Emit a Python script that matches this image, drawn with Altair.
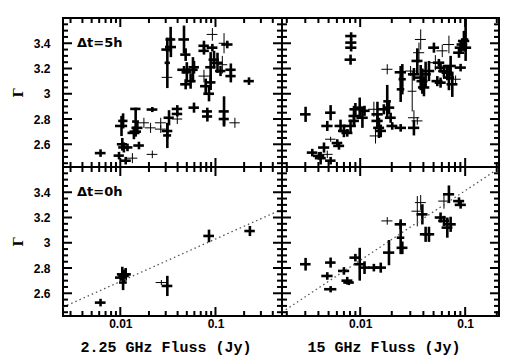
import altair as alt
import pandas as pd

# rows: (flux Jy, photon index, flux error, index error, set)
TL_PTS = [
    (0.0062, 2.53, 0.0008, 0.03, "a"), (0.0097, 2.51, 0.0012, 0.03, "a"),
    (0.0103, 2.745, 0.0015, 0.08, "a"), (0.0107, 2.785, 0.0012, 0.06, "a"),
    (0.0105, 2.60, 0.0013, 0.05, "a"), (0.0109, 2.575, 0.0014, 0.04, "a"),
    (0.0114, 2.47, 0.0015, 0.03, "a"), (0.0119, 2.575, 0.0015, 0.03, "a"),
    (0.0134, 2.49, 0.0017, 0.04, "b"), (0.0139, 2.69, 0.0020, 0.05, "a"),
    (0.0145, 2.70, 0.0020, 0.04, "a"), (0.0145, 2.78, 0.0012, 0.10, "a"),
    (0.0145, 2.88, 0.0018, 0.01, "a"), (0.0157, 2.59, 0.0020, 0.03, "a"),
    (0.0151, 2.73, 0.0020, 0.05, "a"), (0.0177, 2.77, 0.0023, 0.04, "b"),
    (0.0208, 2.73, 0.0027, 0.04, "b"), (0.0217, 2.875, 0.0028, 0.02, "a"),
    (0.0217, 2.52, 0.0028, 0.03, "b"), (0.0266, 2.77, 0.0035, 0.04, "b"),
    (0.0266, 2.72, 0.0035, 0.03, "b"), (0.0312, 2.705, 0.0040, 0.06, "a"),
    (0.0312, 2.67, 0.0030, 0.10, "a"), (0.0325, 2.81, 0.0040, 0.06, "a"),
    (0.0397, 2.88, 0.0050, 0.03, "a"), (0.0397, 2.84, 0.0050, 0.02, "a"),
    (0.0397, 2.80, 0.0050, 0.04, "b"), (0.0595, 2.89, 0.0075, 0.04, "a"),
    (0.0822, 2.82, 0.010, 0.04, "a"), (0.123, 2.86, 0.015, 0.12, "a"),
    (0.123, 2.80, 0.015, 0.05, "a"), (0.16, 2.77, 0.020, 0.04, "b"),
    (0.031, 3.35, 0.0040, 0.02, "a"), (0.0312, 3.245, 0.0020, 0.20, "a"),
    (0.0312, 3.13, 0.0040, 0.04, "b"), (0.0338, 3.43, 0.0040, 0.10, "a"),
    (0.034, 3.37, 0.0045, 0.08, "a"), (0.0467, 3.43, 0.0060, 0.11, "a"),
    (0.0486, 3.31, 0.0060, 0.05, "a"), (0.0467, 3.19, 0.0070, 0.03, "a"),
    (0.050, 3.17, 0.0060, 0.08, "a"), (0.0486, 3.075, 0.0060, 0.04, "a"),
    (0.0548, 3.10, 0.0070, 0.06, "a"), (0.058, 3.19, 0.0070, 0.10, "a"),
    (0.0595, 3.21, 0.0075, 0.05, "a"), (0.0757, 3.38, 0.0095, 0.04, "a"),
    (0.0757, 3.34, 0.0095, 0.03, "a"), (0.0757, 3.14, 0.0095, 0.05, "b"),
    (0.0789, 3.06, 0.010, 0.06, "a"), (0.0855, 3.00, 0.011, 0.06, "a"),
    (0.089, 3.09, 0.011, 0.06, "a"), (0.0928, 3.47, 0.012, 0.05, "b"),
    (0.0928, 3.365, 0.012, 0.03, "a"), (0.089, 3.21, 0.011, 0.12, "a"),
    (0.0966, 3.27, 0.012, 0.07, "a"), (0.105, 3.245, 0.014, 0.08, "a"),
    (0.113, 3.18, 0.014, 0.04, "a"), (0.118, 3.23, 0.015, 0.07, "b"),
    (0.123, 3.40, 0.015, 0.08, "b"), (0.133, 3.39, 0.018, 0.03, "a"),
    (0.145, 3.19, 0.018, 0.05, "a"), (0.145, 3.14, 0.018, 0.05, "a"),
    (0.225, 3.10, 0.028, 0.03, "a"), (0.082, 2.86, 0.010, 0.03, "a"),
]
TR_PTS = [
    (0.00302, 2.837, 0.00035, 0.06, "a"), (0.0035, 2.534, 0.0004, 0.03, "a"),
    (0.00405, 2.508, 0.0005, 0.03, "a"), (0.0042, 2.49, 0.0005, 0.05, "a"),
    (0.00452, 2.574, 0.00055, 0.04, "a"), (0.00486, 2.745, 0.0006, 0.04, "a"),
    (0.00486, 2.52, 0.0006, 0.03, "b"), (0.00523, 2.85, 0.0006, 0.06, "a"),
    (0.00523, 2.64, 0.0006, 0.02, "b"), (0.00523, 2.47, 0.0006, 0.03, "a"),
    (0.00605, 2.61, 0.0007, 0.03, "a"), (0.00628, 2.587, 0.00075, 0.03, "a"),
    (0.0065, 2.745, 0.0008, 0.05, "a"), (0.0070, 2.706, 0.00085, 0.05, "a"),
    (0.00753, 2.69, 0.0009, 0.03, "a"), (0.0081, 2.745, 0.0010, 0.05, "a"),
    (0.0082, 3.457, 0.0010, 0.03, "a"), (0.0082, 3.405, 0.0010, 0.03, "a"),
    (0.0082, 3.365, 0.0010, 0.03, "a"), (0.0081, 3.27, 0.0010, 0.04, "a"),
    (0.00873, 2.824, 0.0010, 0.08, "a"), (0.00873, 2.785, 0.0010, 0.04, "a"),
    (0.0090, 2.877, 0.0011, 0.05, "a"), (0.0099, 2.89, 0.0012, 0.08, "a"),
    (0.0105, 2.81, 0.0013, 0.08, "a"), (0.011, 2.865, 0.0013, 0.04, "a"),
    (0.0135, 2.877, 0.0016, 0.06, "b"), (0.0146, 2.837, 0.0018, 0.10, "a"),
    (0.0146, 2.785, 0.0018, 0.06, "a"), (0.0140, 2.666, 0.0017, 0.06, "b"),
    (0.0151, 2.73, 0.0018, 0.08, "a"), (0.0157, 2.706, 0.0019, 0.05, "a"),
    (0.0168, 2.877, 0.0020, 0.04, "a"), (0.0181, 3.194, 0.0022, 0.04, "b"),
    (0.0181, 2.94, 0.0015, 0.13, "a"), (0.0188, 2.89, 0.0023, 0.05, "a"),
    (0.0195, 2.81, 0.0023, 0.04, "a"), (0.0202, 2.745, 0.0024, 0.03, "a"),
    (0.0243, 3.17, 0.0030, 0.05, "a"), (0.0243, 3.035, 0.0020, 0.10, "a"),
    (0.0243, 2.73, 0.0030, 0.03, "a"), (0.0252, 3.115, 0.0020, 0.12, "a"),
    (0.0302, 3.18, 0.0036, 0.04, "b"), (0.0313, 3.02, 0.0030, 0.16, "b"),
    (0.0325, 3.154, 0.0040, 0.05, "a"), (0.0325, 2.81, 0.0040, 0.06, "b"),
    (0.0325, 2.73, 0.0040, 0.06, "a"), (0.0350, 2.785, 0.0042, 0.03, "b"),
    (0.0350, 3.26, 0.0042, 0.10, "a"), (0.0363, 3.325, 0.0044, 0.08, "b"),
    (0.0377, 3.43, 0.0045, 0.08, "b"), (0.0377, 3.128, 0.0045, 0.10, "a"),
    (0.0391, 3.10, 0.0047, 0.10, "a"), (0.0405, 3.05, 0.0050, 0.07, "a"),
    (0.0420, 3.154, 0.0050, 0.10, "a"), (0.0452, 3.18, 0.0055, 0.08, "a"),
    (0.0504, 3.365, 0.0060, 0.04, "a"), (0.0520, 3.246, 0.0060, 0.06, "b"),
    (0.0543, 3.10, 0.0065, 0.04, "a"), (0.0583, 3.088, 0.0070, 0.04, "a"),
    (0.0562, 3.246, 0.0070, 0.03, "a"), (0.0583, 3.207, 0.0070, 0.04, "a"),
    (0.0605, 3.34, 0.0073, 0.05, "b"), (0.0628, 3.18, 0.0075, 0.05, "a"),
    (0.0676, 3.167, 0.0080, 0.06, "a"), (0.0700, 3.39, 0.0085, 0.07, "b"),
    (0.0700, 3.128, 0.0085, 0.10, "a"), (0.0727, 3.22, 0.0087, 0.08, "a"),
    (0.0754, 3.075, 0.0090, 0.10, "a"), (0.0811, 3.115, 0.0097, 0.03, "b"),
    (0.0873, 3.325, 0.0105, 0.04, "a"), (0.0905, 3.365, 0.011, 0.05, "a"),
    (0.0905, 3.207, 0.011, 0.03, "a"), (0.0938, 3.39, 0.011, 0.05, "a"),
    (0.0973, 3.418, 0.012, 0.08, "a"), (0.101, 3.43, 0.006, 0.17, "a"),
    (0.101, 3.365, 0.013, 0.03, "a"),
]
BL_PTS = [
    (0.0062, 2.526, 0.0008, 0.03, "a"), (0.0101, 2.724, 0.0013, 0.03, "a"),
    (0.0105, 2.75, 0.0013, 0.06, "a"), (0.0109, 2.737, 0.0014, 0.05, "a"),
    (0.0107, 2.685, 0.0010, 0.06, "a"), (0.0114, 2.75, 0.0015, 0.05, "a"),
    (0.027, 2.685, 0.0035, 0.02, "b"), (0.0312, 2.658, 0.0040, 0.08, "a"),
    (0.0855, 3.054, 0.011, 0.05, "a"), (0.23, 3.093, 0.029, 0.04, "a"),
]
BR_PTS = [
    (0.00302, 2.83, 0.00035, 0.05, "a"), (0.00486, 2.737, 0.0006, 0.03, "a"),
    (0.00523, 2.843, 0.0006, 0.04, "a"), (0.00523, 2.632, 0.0007, 0.025, "a"),
    (0.0070, 2.777, 0.00085, 0.03, "a"), (0.00753, 2.70, 0.0009, 0.03, "a"),
    (0.0078, 2.685, 0.0009, 0.02, "a"), (0.0090, 2.882, 0.0011, 0.03, "a"),
    (0.0099, 2.83, 0.0012, 0.13, "a"), (0.0110, 2.803, 0.0013, 0.05, "a"),
    (0.0135, 2.803, 0.0016, 0.03, "a"), (0.0157, 2.803, 0.0019, 0.04, "a"),
    (0.0181, 3.173, 0.0022, 0.03, "b"), (0.0188, 2.922, 0.0023, 0.10, "a"),
    (0.0243, 3.146, 0.0030, 0.04, "a"), (0.0243, 3.04, 0.0020, 0.13, "a"),
    (0.0252, 2.96, 0.0030, 0.05, "a"), (0.0350, 3.25, 0.0042, 0.12, "b"),
    (0.0377, 3.318, 0.0045, 0.06, "b"), (0.0391, 3.225, 0.0047, 0.08, "a"),
    (0.0420, 3.067, 0.0050, 0.06, "a"), (0.0452, 3.067, 0.0055, 0.06, "a"),
    (0.0583, 3.20, 0.0070, 0.04, "a"), (0.0628, 3.33, 0.0075, 0.06, "b"),
    (0.0628, 3.173, 0.0075, 0.04, "a"), (0.0700, 3.384, 0.0085, 0.07, "a"),
    (0.0676, 3.12, 0.0080, 0.08, "a"), (0.0727, 3.146, 0.0087, 0.06, "a"),
    (0.0873, 3.33, 0.0105, 0.03, "a"), (0.0905, 3.30, 0.011, 0.03, "a"),
]

FIT_L_X = [0.0025, 0.5]
FIT_L_Y = [2.49, 3.265]
FIT_R_X = [0.0018, 0.21]
FIT_R_Y = [2.45, 3.59]

XL_DOMAIN = [0.0025, 0.5]
XR_DOMAIN = [0.0018, 0.21]
Y_DOMAIN = [2.42, 3.6]
X_MAJOR = [0.01, 0.1]
XL_MINOR = [0.003, 0.004, 0.005, 0.006, 0.007, 0.008, 0.009,
            0.02, 0.03, 0.04, 0.05, 0.06, 0.07, 0.08, 0.09, 0.2, 0.3, 0.4]
XR_MINOR = [0.002, 0.003, 0.004, 0.005, 0.006, 0.007, 0.008, 0.009,
            0.02, 0.03, 0.04, 0.05, 0.06, 0.07, 0.08, 0.09, 0.2]
Y_MAJOR = [2.6, 2.8, 3.0, 3.2, 3.4]
Y_MINOR = [2.45, 2.5, 2.55, 2.65, 2.7, 2.75, 2.85, 2.9, 2.95,
           3.05, 3.1, 3.15, 3.25, 3.3, 3.35, 3.45, 3.5, 3.55]

X_TITLES = ["2.25 GHz Fluss (Jy)", "15 GHz Fluss (Jy)"]
Y_TITLE = "Γ"
NOTES = ["Δt=5h", "Δt=0h"]

W_L, W_R, H = 219, 217, 149
MAJ, MIN = 9, 5


def panel(pts, xdom, xminor, width, xtitle, show_y, note, fit):
    df = pd.DataFrame(pts, columns=["x", "y", "dx", "dy", "set"])
    xs = alt.Scale(type="log", domain=xdom, nice=False)
    ys = alt.Scale(domain=Y_DOMAIN, nice=False, zero=False)
    if xtitle:
        xaxis = alt.Axis(values=X_MAJOR, format="~g", ticks=False, domain=False,
                         grid=False, labelPadding=2, title=xtitle,
                         titleFont="Liberation Mono", titleFontSize=15,
                         titleFontWeight="bold", titlePadding=10,
                         titleX=width / 2 - 7, titleAlign="center")
    else:
        xaxis = None
    if show_y:
        yaxis = alt.Axis(values=Y_MAJOR, format=".2~f", ticks=False, domain=False,
                         grid=False, labelPadding=13, title=Y_TITLE,
                         titleFont="DejaVu Serif", titleFontSize=13,
                         titleFontWeight="bold", titlePadding=8)
    else:
        yaxis = None

    def X(f):
        return alt.X(f, type="quantitative", scale=xs, axis=xaxis)

    def Y(f):
        return alt.Y(f, type="quantitative", scale=ys, axis=yaxis)

    sw = alt.StrokeWidth("set:N", scale=alt.Scale(domain=["a", "b"], range=[2.6, 1.0]),
                         legend=None)
    base = alt.Chart(df).transform_calculate(
        xlo="datum.x - datum.dx", xhi="datum.x + datum.dx",
        ylo="datum.y - datum.dy", yhi="datum.y + datum.dy")
    vbar = base.mark_rule(color="black", clip=True).encode(
        x=X("x"), y=Y("ylo"), y2=alt.Y2("yhi"), strokeWidth=sw)
    hbar = base.mark_rule(color="black", clip=True).encode(
        x=X("xlo"), x2=alt.X2("xhi"), y=Y("y"), strokeWidth=sw)
    layers = [vbar, hbar]

    if fit is not None:
        fdf = pd.DataFrame({"fx": fit[0], "fy": fit[1]})
        layers.append(alt.Chart(fdf).mark_line(color="#555555", strokeDash=[1.5, 3],
                                               strokeWidth=1.3, clip=True).encode(
            x=X("fx"), y=Y("fy")))

    def ticks(vals, L, side):
        c = alt.Chart(pd.DataFrame({"v": vals})).mark_rule(color="black", strokeWidth=2)
        if side == "bottom":
            return c.encode(x=X("v"), y=alt.value(H), y2=alt.value(H - L))
        if side == "top":
            return c.encode(x=X("v"), y=alt.value(0), y2=alt.value(L))
        if side == "left":
            return c.encode(y=Y("v"), x=alt.value(0), x2=alt.value(L))
        return c.encode(y=Y("v"), x=alt.value(width), x2=alt.value(width - L))

    for side in ["bottom", "top"]:
        layers.append(ticks(X_MAJOR, MAJ, side))
        layers.append(ticks(xminor, MIN, side))
    for side in ["left", "right"]:
        layers.append(ticks(Y_MAJOR, MAJ, side))
        layers.append(ticks(Y_MINOR, MIN, side))

    if note:
        layers.append(alt.Chart(pd.DataFrame({"t": [note]})).mark_text(
            align="left", baseline="middle", font="DejaVu Sans", fontWeight="bold",
            fontSize=13, color="black").encode(
            text="t:N", x=alt.value(14), y=alt.value(25)))

    return alt.layer(*layers).properties(width=width, height=H)


tl = panel(TL_PTS, XL_DOMAIN, XL_MINOR, W_L, None, True, NOTES[0], None)
tr = panel(TR_PTS, XR_DOMAIN, XR_MINOR, W_R, None, False, None, None)
bl = panel(BL_PTS, XL_DOMAIN, XL_MINOR, W_L, X_TITLES[0], True, NOTES[1], (FIT_L_X, FIT_L_Y))
br = panel(BR_PTS, XR_DOMAIN, XR_MINOR, W_R, X_TITLES[1], False, None, (FIT_R_X, FIT_R_Y))

chart = alt.concat(
    tl, tr, bl, br, columns=2, spacing=0, bounds="flush"
).properties(
    padding={"left": 3, "top": 8, "right": 5, "bottom": 5}
).configure_view(
    stroke="black", strokeWidth=2
).configure_axis(
    labelFont="Liberation Sans", labelFontSize=12, labelFontWeight="bold",
    labelColor="black", titleColor="black"
)

chart.save("out.html", embed_options={"renderer": "svg", "actions": False})
